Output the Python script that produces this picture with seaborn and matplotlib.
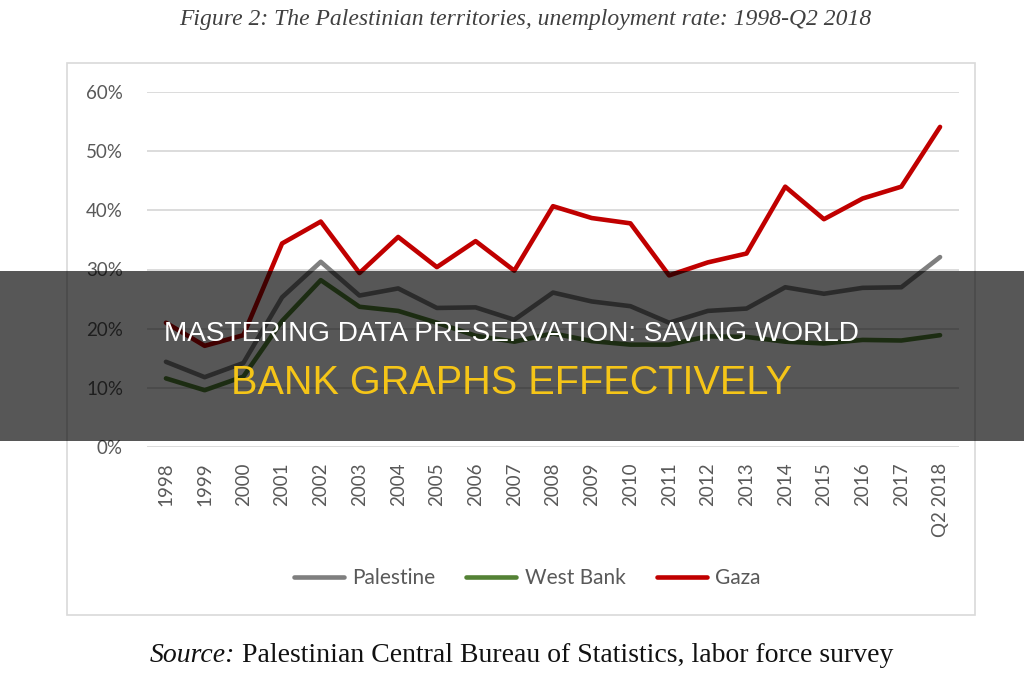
import matplotlib
matplotlib.use("Agg")
import matplotlib.pyplot as plt
from matplotlib.patches import Rectangle
from matplotlib.lines import Line2D
import seaborn as sns
import pandas as pd

years = ['1998', '1999', '2000', '2001', '2002', '2003', '2004', '2005', '2006', '2007',
         '2008', '2009', '2010', '2011', '2012', '2013', '2014', '2015', '2016', '2017', 'Q2 2018']
palestine = [14.4, 11.8, 14.2, 25.3, 31.3, 25.6, 26.8, 23.5, 23.6, 21.5,
             26.1, 24.6, 23.8, 21.0, 23.0, 23.4, 27.0, 25.9, 26.9, 27.0, 32.1]
west_bank = [11.6, 9.6, 11.9, 21.3, 28.2, 23.7, 23.0, 21.0, 18.8, 17.8,
             19.2, 17.9, 17.3, 17.3, 18.7, 18.6, 17.8, 17.5, 18.1, 18.0, 18.9]
gaza = [21.0, 17.1, 18.9, 34.4, 38.1, 29.4, 35.5, 30.4, 34.8, 29.8,
        40.7, 38.7, 37.8, 29.0, 31.2, 32.7, 44.0, 38.5, 42.0, 44.0, 54.1]
series_names = ['Palestine', 'West Bank', 'Gaza']
y_ticks = [0, 10, 20, 30, 40, 50, 60]

title_text = 'Figure 2: The Palestinian territories, unemployment rate: 1998-Q2 2018'
source_lead = 'Source:'
source_rest = ' Palestinian Central Bureau of Statistics, labor force survey'
banner_1 = 'MASTERING DATA PRESERVATION: SAVING WORLD'
banner_2 = 'BANK GRAPHS EFFECTIVELY'

rows = []
for name, vals in zip(series_names, [palestine, west_bank, gaza]):
    for y, v in zip(years, vals):
        rows.append({'year': y, 'rate': v / 100.0, 'series': name})
df = pd.DataFrame(rows)

palette = {'Palestine': '#7f7f7f', 'West Bank': '#548235', 'Gaza': '#c00000'}

sns.set_theme(style='white')
plt.rcParams['font.family'] = ['Lato', 'DejaVu Sans']

W, H = 1024, 680
fig = plt.figure(figsize=(W / 100, H / 100), dpi=100)
fig.patch.set_facecolor('white')

def fx(px):
    return px / W

def fy(py):
    return 1 - py / H

ax = fig.add_axes([fx(146.6), fy(447), fx(959.4) - fx(146.6), fy(92) - fy(447)])

sns.lineplot(data=df, x='year', y='rate', hue='series', palette=palette,
             linewidth=3.3, ax=ax, sort=False, legend=False)

ax.set_xlim(-0.5, len(years) - 0.5)
ax.set_ylim(0, 0.6)
ax.set_yticks([t / 100 for t in y_ticks])
ax.set_yticklabels([f'{t}%' for t in y_ticks])
ax.set_xticks(range(len(years)))
ax.set_xticklabels(years, rotation=90)
ax.set_xlabel('')
ax.set_ylabel('')
ax.grid(axis='y', color='#d9d9d9', linewidth=1.3)
ax.grid(axis='x', visible=False)
ax.set_axisbelow(True)
for s in ['top', 'right', 'left', 'bottom']:
    ax.spines[s].set_visible(False)
ax.tick_params(axis='y', length=0, pad=17, labelsize=13.5, labelcolor='#595959')
ax.tick_params(axis='x', length=0, pad=11, labelsize=13.5, labelcolor='#595959')
ax.set_facecolor('none')

# outer chart frame
fig.patches.append(Rectangle((fx(67), fy(615)), fx(975) - fx(67), fy(63) - fy(615),
                             transform=fig.transFigure, fill=False,
                             edgecolor='#d9d9d9', linewidth=1.2, zorder=1))

handles = [Line2D([0], [0], color=palette[n], linewidth=3.3) for n in series_names]
fig.legend(handles, series_names, loc='center', bbox_to_anchor=(fx(527), fy(578)),
           ncol=3, frameon=False, fontsize=15, labelcolor='#595959',
           handlelength=2.4, handletextpad=0.4, columnspacing=1.5)

fig.text(fx(525), fy(19), title_text, ha='center', va='center',
         family=['Liberation Serif'], style='italic', fontsize=17, color='#404040')

t1 = fig.text(fx(150), fy(655), source_lead, ha='left', va='center',
              family=['Liberation Serif'], style='italic', fontsize=20, color='#111111')
fig.canvas.draw()
r = fig.canvas.get_renderer()
bb = t1.get_window_extent(renderer=r)
fig.text(bb.x1 / W, fy(655), source_rest, ha='left', va='center',
         family=['Liberation Serif'], fontsize=20, color='#111111')

# dark banner overlay
fig.patches.append(Rectangle((0, fy(441)), 1, fy(271) - fy(441),
                             transform=fig.transFigure, facecolor='black',
                             alpha=0.66, edgecolor='none', zorder=10))
fig.text(fx(511), fy(334), banner_1, ha='center', va='center',
         family=['Liberation Sans'], fontsize=20.2, color='white', zorder=11)
fig.text(fx(511), fy(383), banner_2, ha='center', va='center',
         family=['Liberation Sans'], fontsize=28.5, color='#f5c518', zorder=11)

fig.savefig('out.png', dpi=100)
